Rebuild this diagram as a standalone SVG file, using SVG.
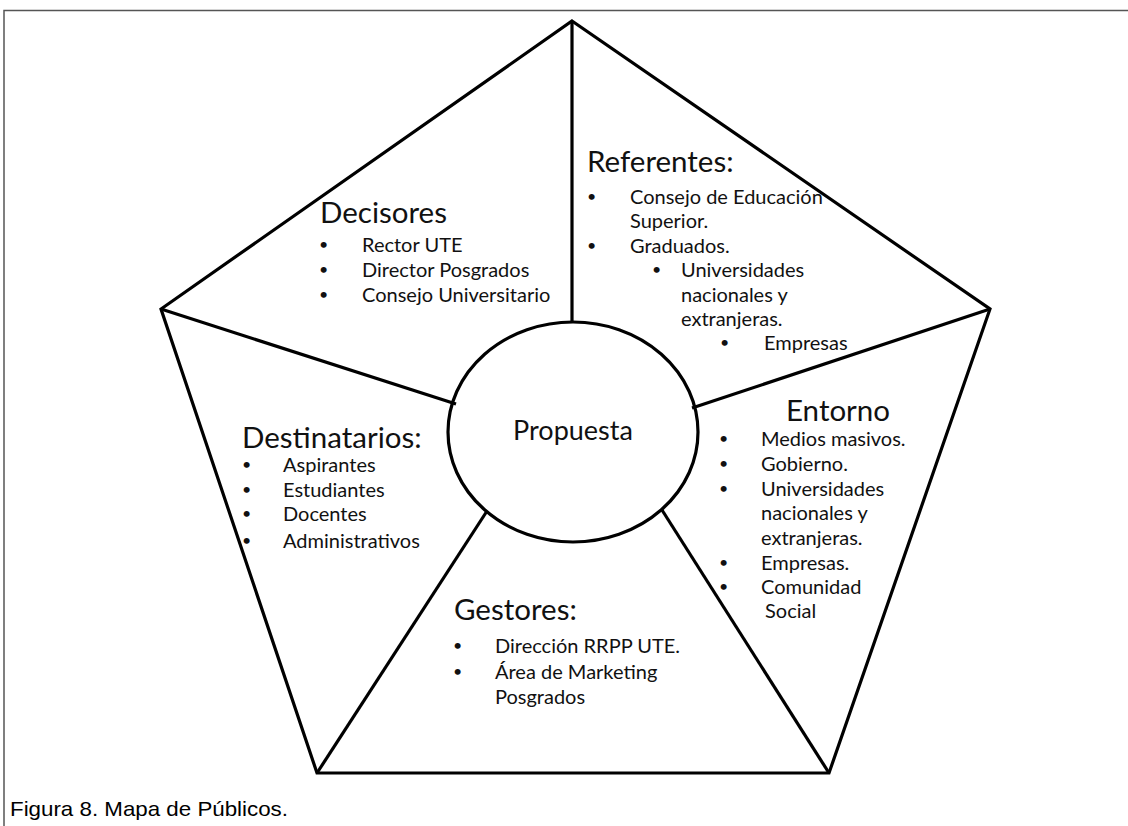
<svg xmlns="http://www.w3.org/2000/svg" width="1128" height="826" viewBox="0 0 1128 826">
  <style>
    .frame { fill: none; stroke: #555; stroke-width: 1.5; }
    .shape { fill: none; stroke: #000; stroke-width: 3.2; stroke-linejoin: miter; }
    text { font-family: Lato, "Open Sans", sans-serif; fill: #111; }
    .head { font-size: 29.5px; }
    .item { font-size: 20px; }
    .dot { font-size: 16px; }
    .core { font-size: 27px; }
    .caption { font-family: "Liberation Sans", Arial, sans-serif; font-size: 21px; fill: #000; }
  </style>
  <rect width="1128" height="826" fill="#fff"/>
  <!-- outer frame -->
  <path class="frame" d="M4 826 V10.5 H1128"/>

  <!-- pentagon outline and spokes -->
  <g id="connectors">
    <polygon class="shape" points="572,21 990,309 829,773 317,773 161,309"/>
    <line class="shape" x1="572" y1="21" x2="572" y2="322"/>
    <line class="shape" x1="161" y1="309" x2="456" y2="404"/>
    <line class="shape" x1="990" y1="309" x2="692" y2="408"/>
    <line class="shape" x1="317" y1="773" x2="487" y2="511"/>
    <line class="shape" x1="829" y1="773" x2="662" y2="510"/>
  </g>

  <g id="propuesta">
    <ellipse class="shape" cx="573" cy="432" rx="125" ry="110" fill="#fff"/>
    <text class="core" x="573" y="440" text-anchor="middle">Propuesta</text>
  </g>

  <g id="decisores">
    <text class="head" x="320" y="223">Decisores</text>
    <g class="item">
      <text class="dot" x="319" y="250">•</text><text x="362" y="252">Rector UTE</text>
      <text class="dot" x="319" y="275">•</text><text x="362" y="277">Director Posgrados</text>
      <text class="dot" x="319" y="300">•</text><text x="362" y="302">Consejo Universitario</text>
    </g>
  </g>

  <g id="referentes">
    <text class="head" x="587" y="172">Referentes:</text>
    <g class="item">
      <text class="dot" x="587" y="202">•</text><text x="630" y="204">Consejo de Educación</text>
      <text x="630" y="228">Superior.</text>
      <text class="dot" x="587" y="251">•</text><text x="630" y="253">Graduados.</text>
      <text class="dot" x="652" y="275">•</text><text x="681" y="277">Universidades</text>
      <text x="681" y="302">nacionales y</text>
      <text x="681" y="326">extranjeras.</text>
      <text class="dot" x="720" y="348">•</text><text x="764" y="350">Empresas</text>
    </g>
  </g>

  <g id="entorno">
    <text class="head" x="786" y="421">Entorno</text>
    <g class="item">
      <text class="dot" x="719" y="444">•</text><text x="761" y="446">Medios masivos.</text>
      <text class="dot" x="719" y="469">•</text><text x="761" y="471">Gobierno.</text>
      <text class="dot" x="719" y="494">•</text><text x="761" y="496">Universidades</text>
      <text x="761" y="520">nacionales y</text>
      <text x="761" y="545">extranjeras.</text>
      <text class="dot" x="719" y="568">•</text><text x="761" y="570">Empresas.</text>
      <text class="dot" x="719" y="592">•</text><text x="761" y="594">Comunidad</text>
      <text x="765" y="618">Social</text>
    </g>
  </g>

  <g id="destinatarios">
    <text class="head" x="242" y="448">Destinatarios:</text>
    <g class="item">
      <text class="dot" x="242" y="470">•</text><text x="283" y="472">Aspirantes</text>
      <text class="dot" x="242" y="495">•</text><text x="283" y="497">Estudiantes</text>
      <text class="dot" x="242" y="519">•</text><text x="283" y="521">Docentes</text>
      <text class="dot" x="242" y="546">•</text><text x="283" y="548">Administrativos</text>
    </g>
  </g>

  <g id="gestores">
    <text class="head" x="454" y="620">Gestores:</text>
    <g class="item">
      <text class="dot" x="453" y="651">•</text><text x="495" y="653">Dirección RRPP UTE.</text>
      <text class="dot" x="453" y="677">•</text><text x="495" y="679">Área de Marketing</text>
      <text x="495" y="704">Posgrados</text>
    </g>
  </g>

  <text class="caption" x="10" y="816" textLength="278" lengthAdjust="spacingAndGlyphs">Figura 8. Mapa de Públicos.</text>
</svg>
